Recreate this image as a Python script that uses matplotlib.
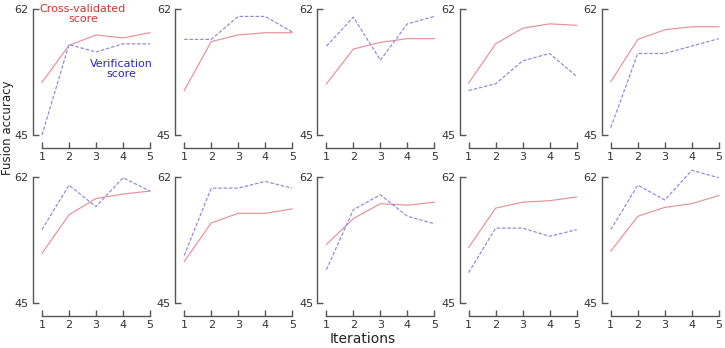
import matplotlib
matplotlib.use("Agg")
import matplotlib.pyplot as plt

iterations = [1, 2, 3, 4, 5]

# cross-validated score (red, solid) per panel
cv_scores = [
    [52.1, 57.1, 58.5, 58.1, 58.8],
    [51.0, 57.6, 58.5, 58.8, 58.8],
    [51.9, 56.6, 57.5, 58.0, 58.0],
    [52.0, 57.3, 59.4, 60.0, 59.8],
    [52.2, 57.9, 59.2, 59.6, 59.6],
    [51.7, 56.9, 59.1, 59.7, 60.1],
    [50.6, 55.8, 57.1, 57.1, 57.7],
    [52.9, 56.4, 58.4, 58.2, 58.6],
    [52.5, 57.8, 58.6, 58.8, 59.3],
    [52.0, 56.7, 57.9, 58.4, 59.5],
]

# verification score (blue, dashed) per panel
ver_scores = [
    [45.0, 57.2, 56.2, 57.3, 57.3],
    [57.9, 57.9, 61.0, 61.0, 58.9],
    [57.0, 60.9, 55.1, 60.0, 61.0],
    [51.0, 51.9, 55.0, 56.0, 52.9],
    [46.0, 56.0, 56.0, 57.0, 58.0],
    [54.9, 60.9, 58.0, 61.9, 60.1],
    [51.4, 60.5, 60.5, 61.4, 60.5],
    [49.5, 57.6, 59.6, 56.7, 55.7],
    [49.1, 55.1, 55.1, 54.0, 54.9],
    [54.9, 60.9, 58.9, 62.9, 61.9],
]

Y_MIN, Y_MAX = 45, 62
RED = "#e8909a"
BLUE = "#8a8ad8"
W, H = 725, 348

fig = plt.figure(figsize=(W / 100, H / 100), dpi=100)

for i in range(10):
    row, col = divmod(i, 5)
    left = 42 + 142.2 * col
    bottom = 213 if row == 0 else 45
    ax = fig.add_axes([left / W, bottom / H, 108 / W, 126 / H])
    ax.plot(iterations, cv_scores[i], color=RED, lw=0.85, clip_on=False)
    ax.plot(iterations, ver_scores[i], color=BLUE, lw=0.85, ls=(0, (3, 1.5)), clip_on=False)
    ax.set_xlim(1, 5)
    ax.set_ylim(Y_MIN, Y_MAX)
    ax.set_xticks(iterations)
    ax.set_yticks([Y_MIN, Y_MAX])
    for s in ["top", "right"]:
        ax.spines[s].set_visible(False)
    ax.spines["left"].set_position(("outward", 6.5))
    ax.spines["bottom"].set_position(("outward", 9))
    ax.spines["left"].set_bounds(Y_MIN, Y_MAX)
    ax.spines["bottom"].set_bounds(1, 5)
    for s in ["left", "bottom"]:
        ax.spines[s].set_color("#555555")
        ax.spines[s].set_linewidth(1.0)
    ax.tick_params(direction="in", length=4, width=1.0, color="#555555",
                   labelsize=8, labelcolor="#333333", pad=3)
    ax.patch.set_alpha(0)

fig.text(83 / W, 1 - 14 / H, "Cross-validated\nscore", color="#d03535", fontsize=8,
         ha="center", va="center", linespacing=1.0)
fig.text(121 / W, 1 - 69 / H, "Verification\nscore", color="#2828c0", fontsize=8,
         ha="center", va="center", linespacing=1.0)
fig.text(363 / W, 1 - 339 / H, "Iterations", fontsize=10, color="#222222",
         ha="center", va="center")
fig.text(1 / W, 1 - 128 / H, "Fusion accuracy", fontsize=8.5, color="#222222",
         rotation=90, ha="left", va="center")

fig.savefig("out.png", dpi=100)
